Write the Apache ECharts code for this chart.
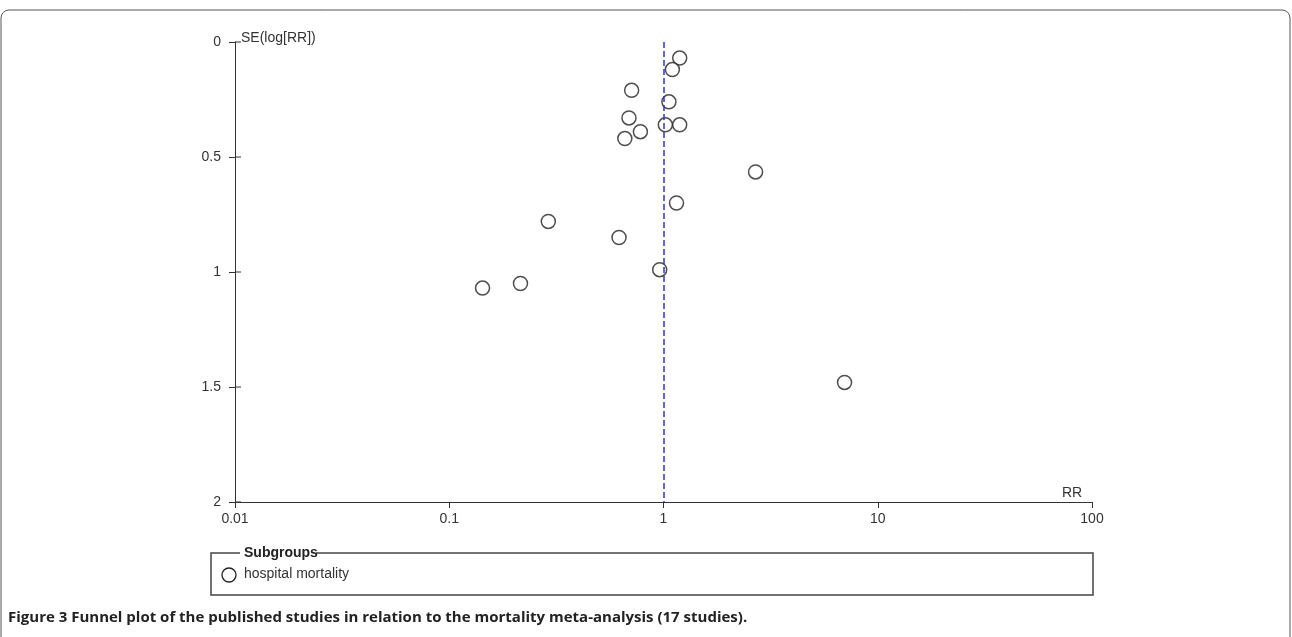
<!DOCTYPE html><html><head><meta charset="utf-8"><script src="https://cdn.jsdelivr.net/npm/echarts@6/dist/echarts.min.js"></script></head><body style="margin:0;background:#fff"><div id="c" style="width:1292px;height:637px"></div><script>
const rr=[1.19,1.10,0.71,1.06,0.69,1.02,1.19,0.78,0.66,2.69,1.15,0.29,0.62,0.96,0.143,0.215,7.0];
const se=[0.07,0.12,0.21,0.26,0.33,0.36,0.36,0.39,0.42,0.565,0.70,0.78,0.85,0.99,1.07,1.05,1.48];
const xTicks=[0.01,0.1,1,10,100];
const yTicks=[0,0.5,1,1.5,2];
const pts=rr.map((v,i)=>[v,se[i]]);
const ch=echarts.init(document.getElementById('c'));
const F='Liberation Sans, Arial, sans-serif';
ch.setOption({animation:false,
grid:{left:235,right:200,top:42,bottom:135},
xAxis:{type:'log',logBase:10,min:0.01,max:100,position:'bottom',axisLine:{onZero:false,lineStyle:{color:'#333'}},
 axisTick:{show:true,length:6,lineStyle:{color:'#333'}},splitLine:{show:false},minorTick:{show:false},
 axisLabel:{fontFamily:F,fontSize:14,color:'#333',margin:10,formatter:v=>String(xTicks.find(t=>Math.abs(Math.log10(t)-Math.log10(v))<1e-6)??v)}},
yAxis:{type:'value',inverse:true,min:0,max:2,interval:0.5,
 axisLine:{show:true,onZero:false,lineStyle:{color:'#333'}},axisTick:{show:true,length:6,lineStyle:{color:'#333'}},splitLine:{show:false},
 axisLabel:{fontFamily:F,fontSize:14,color:'#333',margin:14,formatter:v=>String(yTicks.find(t=>Math.abs(t-v)<1e-9)??v)}},
series:[{type:'scatter',data:pts,symbol:'circle',symbolSize:14,itemStyle:{color:'#fff',borderColor:'#222',borderWidth:1.5},
 markLine:{silent:true,symbol:'none',label:{show:false},lineStyle:{color:'#3333cc',type:'dashed',width:1.5},data:[[{coord:[1,0]},{coord:[1,2]}]]}}],
graphic:[
 {type:'rect',shape:{x:1,y:10,width:1289,height:640,r:8},style:{fill:'none',stroke:'#555',lineWidth:1}},
 {type:'line',shape:{x1:235,y1:502,x2:241,y2:502},style:{stroke:'#333',lineWidth:1}},
 {type:'line',shape:{x1:235,y1:42,x2:241,y2:42},style:{stroke:'#333',lineWidth:1}},
 {type:'line',shape:{x1:235,y1:157,x2:241,y2:157},style:{stroke:'#333',lineWidth:1}},
 {type:'line',shape:{x1:235,y1:272,x2:241,y2:272},style:{stroke:'#333',lineWidth:1}},
 {type:'line',shape:{x1:235,y1:387,x2:241,y2:387},style:{stroke:'#333',lineWidth:1}},
 {type:'text',x:241,y:31,style:{text:'SE(log[RR])',font:'14px '+F,fill:'#333'}},
 {type:'text',x:1062,y:486,style:{text:'RR',font:'14px '+F,fill:'#333'}},
 {type:'rect',shape:{x:211,y:553,width:882,height:42},style:{fill:'none',stroke:'#444',lineWidth:1.5}},
 {type:'rect',shape:{x:240,y:547,width:76,height:12},style:{fill:'#fff'}},
 {type:'text',x:244,y:546,style:{text:'Subgroups',font:'bold 14px '+F,fill:'#222'}},
 {type:'circle',shape:{cx:229,cy:575,r:7},style:{fill:'#fff',stroke:'#222',lineWidth:1.3}},
 {type:'text',x:244,y:567,style:{text:'hospital mortality',font:'14px '+F,fill:'#333'}},
 {type:'text',x:8,y:610,style:{text:'Figure 3 Funnel plot of the published studies in relation to the mortality meta-analysis (17 studies).',font:'bold 15px Open Sans, sans-serif',fill:'#222'}}
]});
</script></body></html>
